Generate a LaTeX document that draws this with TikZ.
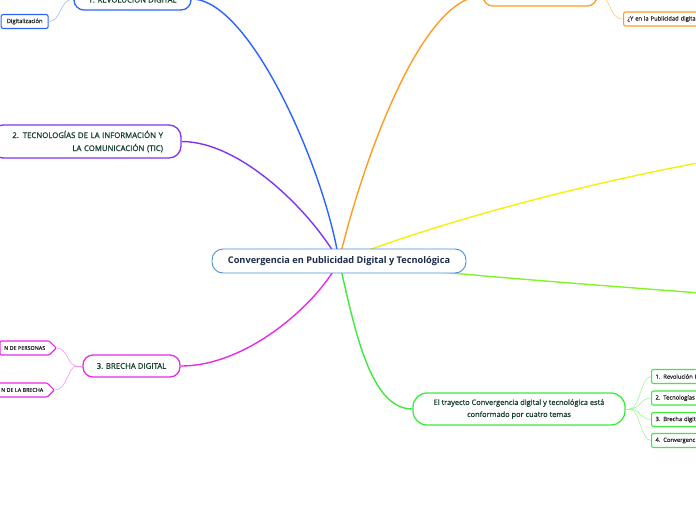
\documentclass[tikz,border=0pt]{standalone}
\usepackage{fontspec}
\setmainfont{Open Sans}
\newfontfamily\medfont[FakeBold=0.7]{Open Sans}
\usetikzlibrary{positioning, shapes.symbols, backgrounds}

\definecolor{ctrline}{HTML}{4A8FD4}
\definecolor{ctrtext}{HTML}{1C2B4B}
\definecolor{toptext}{HTML}{163F2E}
\definecolor{brblue}{HTML}{2B63FF}
\definecolor{brpurple}{HTML}{8133F2}
\definecolor{brorange}{HTML}{FF9B21}
\definecolor{bryellow}{HTML}{F2F20A}
\definecolor{brlime}{HTML}{82F52A}
\definecolor{brmagenta}{HTML}{E82AE8}
\definecolor{brgreen}{HTML}{3CEB3C}

\begin{document}
\begin{tikzpicture}[
  x=1pt, y=-1pt,
  %% node styles
  central/.style={
    draw=ctrline, fill=white, rounded corners=11pt, line width=0.9pt,
    minimum width=254pt, minimum height=24pt, align=center,
    font=\fontsize{9.2}{10}\selectfont\bfseries, text=ctrtext
  },
  topic/.style={
    fill=white, rounded corners=10pt, line width=1.3pt, align=center,
    font=\medfont\fontsize{7.8}{13}\selectfont, text=toptext
  },
  leaf/.style={
    fill=white, rounded corners=2pt, line width=1.1pt, inner xsep=4pt,
    minimum height=14pt, font=\medfont\fontsize{5.8}{6}\selectfont, text=black!85
  },
  tag/.style={
    leaf, shape=signal, signal to=east, rounded corners=1pt
  },
  %% connector styles
  branch/.style={line width=1.4pt},
  twig/.style={line width=0.6pt},
]

\useasboundingbox (0,0) rectangle (696,520);
\clip (0,0) rectangle (696,520);

%% ── CENTRE AND TOPICS ─────────────────────────────────────────────────────
\node[central] (conv) at (339,261) {Convergencia en Publicidad Digital y Tecnológica};

\node[topic, draw=brblue, minimum width=117pt, minimum height=22pt]
  (revol) at (132.5,-1) {1. REVOLUCIÓN DIGITAL};
\node[topic, draw=brpurple, align=right, text width=154pt, inner xsep=18pt,
  minimum height=33pt, rounded corners=12pt]
  (tic) at (86,141.5) {2. TECNOLOGÍAS DE LA INFORMACIÓN Y\\LA COMUNICACIÓN (TIC)};
\node[topic, draw=brmagenta, minimum width=97pt, minimum height=22pt]
  (brecha) at (131.5,366) {3. BRECHA DIGITAL};
\node[topic, draw=brorange, minimum width=114pt, minimum height=20pt]
  (pubq) at (540,-4) {};
\node[topic, draw=brgreen, minimum width=212pt, minimum height=32pt, rounded corners=14pt,
  font=\medfont\fontsize{7.4}{12}\selectfont]
  (trayecto) at (519,409)
  {El trayecto Convergencia digital y tecnológica está\\conformado por cuatro temas};

%% free ends of the branches that leave the page
\coordinate (yelend) at (725,158);
\coordinate (limend) at (725,295);

%% ── LEAVES ────────────────────────────────────────────────────────────────
\node[leaf, draw=brblue, anchor=west, minimum width=47pt] (digit) at (0.6,21.5) {Digitalización};
\node[leaf, draw=brorange, anchor=west, align=left, text width=82pt] (ypub) at (623,19)
  {¿Y en la Publicidad digita};
\node[tag, draw=brmagenta, anchor=east, font=\medfont\fontsize{5.4}{6}\selectfont]
  (person) at (57,348) {N DE PERSONAS};
\node[tag, draw=brmagenta, anchor=east, font=\medfont\fontsize{5.4}{6}\selectfont]
  (cierre) at (55,390) {N DE LA BRECHA};

\foreach \i/\t/\y in {1/1. Revolución D/376.5, 2/2. Tecnologías/398,
                      3/3. Brecha digit/419.5, 4/4. Convergenc/440.5}
  \node[leaf, draw=brgreen, anchor=west, align=left, text width=60pt]
    (tema\i) at (651,\y) {\t};

%% ── CONNECTORS ────────────────────────────────────────────────────────────
\begin{scope}[on background layer]
  \draw[branch, brblue]    (conv.center) .. controls (325,170) and (250,-1) .. (revol.east);
  \draw[branch, brpurple]  (conv.center) .. controls (310,210) and (240,141.5) .. (tic.east);
  \draw[branch, brorange]  (conv.center) .. controls (360,170) and (420,-4) .. (pubq.west);
  \draw[branch, bryellow]  (conv.center) .. controls (450,218) and (600,180) .. (yelend);
  \draw[branch, brlime]    (conv.center) .. controls (450,275) and (600,285) .. (limend);
  \draw[branch, brmagenta] (conv.center) .. controls (320,300) and (250,366) .. (brecha.east);
  \draw[branch, brgreen]   (conv.center) .. controls (355,330) and (370,409) .. (trayecto.west);
\end{scope}

%% sub-branches
\draw[twig, brblue!45] (revol.west) .. controls +(-14,0) and +(13,0) .. (digit.east);
\draw[twig, brorange!60] (pubq.east) .. controls +(15,0) and +(-15,0) .. (ypub.west);

\draw[twig, brmagenta!50] (brecha.west) -- ++(-6,0) coordinate (bj);
\draw[twig, brmagenta!50] (bj) .. controls +(-8,0) and +(10,0) .. (person.east);
\draw[twig, brmagenta!50] (bj) .. controls +(-8,0) and +(12,0) .. (cierre.east);

\draw[twig, brgreen!50] (trayecto.east) -- ++(4,0) coordinate (tj);
\foreach \i in {1,...,4}
  \draw[twig, brgreen!50] (tj) .. controls +(10,0) and +(-10,0) .. (tema\i.west);

\end{tikzpicture}
\end{document}
